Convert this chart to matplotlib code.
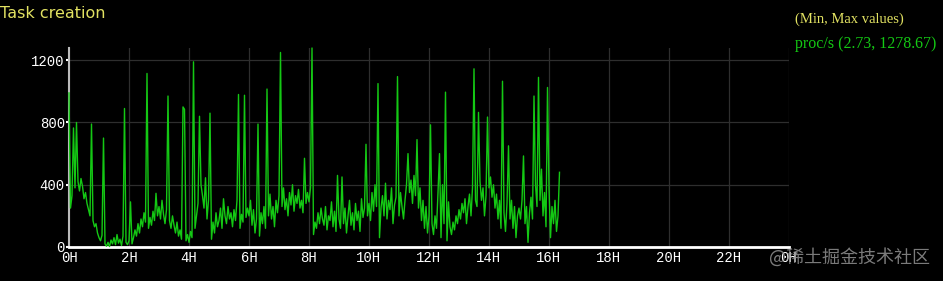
import matplotlib
matplotlib.use("Agg")
import matplotlib.pyplot as plt
import numpy as np

# ── Data: proc/s sampled every 3 minutes (0.05 h) ─────────────────────────────
STEP_H = 0.05
proc_h00 = [990, 250, 330, 765, 380, 800, 420, 360, 440, 390,
            310, 350, 280, 240, 200, 790, 170, 130, 150, 90]
proc_h01 = [60, 40, 75, 700, 20, 5, 30, 2.73, 45, 20,
            60, 15, 80, 25, 50, 10, 70, 890, 30, 15]
proc_h02 = [40, 290, 20, 60, 110, 70, 150, 90, 180, 130,
            220, 160, 1115, 120, 190, 140, 230, 170, 345, 200]
proc_h03 = [260, 180, 300, 210, 150, 240, 970, 170, 120, 200,
            140, 90, 160, 70, 110, 50, 900, 885, 40, 80]
proc_h04 = [30, 100, 60, 1190, 120, 200, 280, 840, 400, 330,
            250, 445, 180, 300, 860, 50, 160, 90, 220, 130]
proc_h05 = [170, 250, 120, 310, 200, 150, 260, 180, 220, 130,
            240, 170, 300, 980, 120, 210, 160, 975, 190, 250]
proc_h06 = [200, 300, 140, 240, 90, 180, 790, 70, 220, 150,
            260, 120, 1015, 200, 340, 180, 260, 130, 300, 220]
proc_h07 = [330, 1250, 260, 380, 240, 310, 200, 350, 270, 400,
            230, 330, 280, 370, 250, 300, 220, 570, 280, 350]
proc_h08 = [290, 380, 1278.67, 80, 160, 120, 220, 150, 250, 180,
            140, 260, 110, 200, 170, 290, 130, 230, 100, 460]
proc_h09 = [180, 120, 450, 150, 250, 90, 200, 300, 140, 220,
            110, 280, 170, 230, 100, 310, 190, 250, 660, 200]
proc_h10 = [280, 170, 350, 230, 400, 260, 1050, 60, 250, 330,
            200, 410, 180, 300, 240, 380, 150, 270, 320, 1095]
proc_h11 = [200, 350, 260, 180, 300, 400, 600, 350, 430, 280,
            460, 330, 690, 250, 380, 170, 300, 120, 260, 90]
proc_h12 = [200, 785, 150, 80, 200, 120, 350, 600, 60, 400,
            150, 995, 40, 290, 130, 80, 160, 110, 200, 150]
proc_h13 = [240, 180, 280, 220, 310, 150, 260, 340, 200, 380,
            1145, 300, 260, 865, 420, 300, 380, 200, 330, 835]
proc_h14 = [380, 450, 320, 400, 250, 340, 180, 300, 120, 1065,
            220, 100, 280, 650, 180, 300, 120, 260, 60, 200]
proc_h15 = [250, 180, 300, 585, 150, 260, 30, 220, 320, 180,
            970, 400, 260, 1090, 300, 500, 200, 350, 130, 1025]
proc_h16 = [380, 60, 260, 150, 300, 100, 200, 480]

proc_s = (proc_h00 + proc_h01 + proc_h02 + proc_h03 + proc_h04 + proc_h05
          + proc_h06 + proc_h07 + proc_h08 + proc_h09 + proc_h10 + proc_h11
          + proc_h12 + proc_h13 + proc_h14 + proc_h15 + proc_h16)
hours = np.arange(len(proc_s)) * STEP_H

x_ticks = list(range(0, 25, 2))
x_labels = [f"{h % 24}H" for h in x_ticks]
y_ticks = [0, 400, 800, 1200]

# ── Colours ──────────────────────────────────────────────────────────────────
BG = "#000000"
YELLOW = "#e2e262"
GREEN = "#14c814"
GRID = "#2e2e2e"
MONO = "Liberation Mono"
SERIF = "Liberation Serif"

fig = plt.figure(figsize=(9.43, 2.81), dpi=100)
fig.patch.set_facecolor(BG)
ax = fig.add_axes([69 / 943, 1 - 247 / 281, 720 / 943, 199 / 281])
ax.set_facecolor(BG)

ax.plot(hours, proc_s, color=GREEN, linewidth=1.0, zorder=5, clip_on=False)

ax.set_xlim(0, 24)
ax.set_ylim(0, 1278.67)
ax.set_xticks(x_ticks)
ax.set_xticklabels(x_labels)
ax.set_yticks(y_ticks)
ax.set_yticklabels([str(v) for v in y_ticks])
ax.grid(True, color=GRID, linewidth=0.9, zorder=0)

ax.tick_params(axis="x", length=0, pad=3, colors="white", labelsize=10)
ax.tick_params(axis="y", length=2, width=1.5, pad=1, colors="white", labelsize=10)
for lbl in ax.get_xticklabels() + ax.get_yticklabels():
    lbl.set_family(MONO)

for side in ("top", "right"):
    ax.spines[side].set_visible(False)
ax.spines["left"].set_color("#bbbbbb")
ax.spines["left"].set_linewidth(1.5)
ax.spines["bottom"].set_color("white")
ax.spines["bottom"].set_linewidth(2)

# ── Title, legend text, watermark ────────────────────────────────────────────
fig.text(0.0, 1 - 13 / 281, "Task creation", color=YELLOW, fontsize=11.5,
         family="DejaVu Sans", va="center", ha="left")
fig.text(795 / 943, 1 - 19 / 281, "(Min, Max values)", color=YELLOW,
         fontsize=10.5, family=SERIF, va="center", ha="left")
fig.text(795 / 943, 1 - 44 / 281, "proc/s (2.73, 1278.67)", color=GREEN,
         fontsize=11.5, family=SERIF, va="center", ha="left")
fig.text(769 / 943, 1 - 257 / 281, "@稀土掘金技术社区", color="#9a9a9a",
         alpha=0.8, fontsize=13, family=["Noto Sans CJK SC", "DejaVu Sans"],
         va="center", ha="left")

fig.savefig("out.png", dpi=100, facecolor=BG)
